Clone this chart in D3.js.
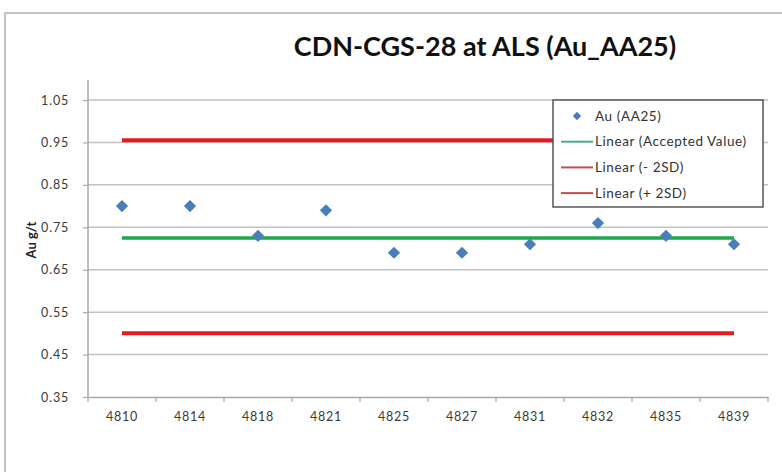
<!DOCTYPE html>
<html>
<head>
<meta charset="utf-8">
<script src="https://cdn.jsdelivr.net/npm/d3@7"></script>
<style>
  body { margin: 0; background: #fff; }
  text { font-family: Lato, "Open Sans", sans-serif; }
</style>
</head>
<body>
<div id="svganchor"></div>
<script>
let width = 782, height = 472;

let margin = ({top: 100, right: 14, bottom: 75, left: 88});

// sample ids on the x axis
let samples = ["4810", "4814", "4818", "4821", "4825", "4827", "4831", "4832", "4835", "4839"];
// Au (AA25) results, g/t
let auValues = [0.80, 0.80, 0.73, 0.79, 0.69, 0.69, 0.71, 0.76, 0.73, 0.71];
let acceptedValue = [0.725, 0.725];
let minus2SD = [0.50, 0.50];
let plus2SD = [0.955, 0.955];
let yTicks = [0.35, 0.45, 0.55, 0.65, 0.75, 0.85, 0.95, 1.05];

let legendItems = [
    {label: "Au (AA25)", type: "point"},
    {label: "Linear (Accepted Value)", type: "line", color: "#4aae8a"},
    {label: "Linear (- 2SD)", type: "line", color: "#c0504d"},
    {label: "Linear (+ 2SD)", type: "line", color: "#c0504d"}
];

let svg = d3.select("#svganchor")
    .append("svg")
    .attr("width", width)
    .attr("height", height);

// outer chart frame
svg.append("rect")
    .attr("x", 5)
    .attr("y", 13)
    .attr("width", 800)
    .attr("height", 480)
    .attr("fill", "none")
    .attr("stroke", "#c4c4c4")
    .attr("stroke-width", 2);

let xScale = d3.scaleBand()
    .domain(samples)
    .range([margin.left, width - margin.right]);

let yScale = d3.scaleLinear()
    .domain([0.35, 1.05])
    .range([height - margin.bottom, margin.top]);

// gridlines
svg.append("g")
    .selectAll("line")
    .data(yTicks.slice(1))
    .enter()
    .append("line")
    .attr("x1", margin.left)
    .attr("x2", width - margin.right)
    .attr("y1", d => yScale(d))
    .attr("y2", d => yScale(d))
    .attr("stroke", "#c2c2c2")
    .attr("stroke-width", 1.5);

let yAxis = d3.axisLeft(yScale)
    .tickValues(yTicks)
    .tickFormat(d3.format(".2f"))
    .tickSizeInner(5)
    .tickSizeOuter(0)
    .tickPadding(14);

let gY = svg.append("g")
    .attr("class", "y axis")
    .attr("transform", "translate(" + margin.left + ",0)")
    .call(yAxis);

gY.select(".domain").remove();
gY.append("line")
    .attr("y1", 80)
    .attr("y2", height - margin.bottom)
    .attr("stroke", "#a8a8a8")
    .attr("stroke-width", 1.5);

let xAxis = d3.axisBottom(xScale)
    .tickSize(0)
    .tickPadding(15);

let gX = svg.append("g")
    .attr("class", "x axis")
    .attr("transform", "translate(0," + (height - margin.bottom) + ")")
    .call(xAxis);

gX.select(".domain")
    .attr("stroke", "#a8a8a8")
    .attr("stroke-width", 1.5);

// boundary ticks between categories
gX.selectAll(".bound")
    .data(samples.concat(["end"]))
    .enter()
    .append("line")
    .attr("x1", (d, i) => margin.left + i * xScale.bandwidth())
    .attr("x2", (d, i) => margin.left + i * xScale.bandwidth())
    .attr("y1", 0)
    .attr("y2", 5)
    .attr("stroke", "#a8a8a8")
    .attr("stroke-width", 1.2);

svg.selectAll(".axis text")
    .attr("fill", "#3a3a3a")
    .style("font-size", "12.5px")
    .style("letter-spacing", "0.8px");

gY.selectAll(".tick line").attr("stroke", "#a8a8a8").attr("stroke-width", 1.2);

let yTitle = svg.append("text")
    .attr("transform", "translate(36," + yScale(0.72) + ") rotate(-90)")
    .attr("text-anchor", "middle")
    .style("font-size", "13px")
    .style("font-weight", "bold")
    .attr("fill", "#222")
    .text("Au g/t");

let chartTitle = svg.append("text")
    .attr("text-anchor", "middle")
    .attr("x", 485)
    .attr("y", 56)
    .style("font-size", "27px")
    .style("font-weight", "bold")
    .attr("fill", "#111")
    .text("CDN-CGS-28 at ALS (Au_AA25)");

// reference lines from first to last sample
let cx = d => xScale(d) + xScale.bandwidth() / 2;
let ends = [samples[0], samples[samples.length - 1]];

function refLine(values, color, w) {
    svg.append("path")
        .datum(values)
        .attr("fill", "none")
        .attr("stroke", color)
        .attr("stroke-width", w)
        .attr("d", d3.line()
            .x((d, i) => cx(ends[i]))
            .y(d => yScale(d)));
}

refLine(plus2SD, "#e31b23", 4);
refLine(minus2SD, "#e31b23", 4);
refLine(acceptedValue, "#1fa84a", 3.5);

let diamond = d3.symbol().type(d3.symbolDiamond2).size(95);

svg.selectAll(".pt")
    .data(auValues)
    .enter()
    .append("path")
    .attr("transform", (d, i) => "translate(" + cx(samples[i]) + "," + yScale(d) + ")")
    .attr("d", diamond)
    .attr("fill", "#4a7ebb");

// legend
let legend = svg.append("g").attr("transform", "translate(553,100)");

legend.append("rect")
    .attr("width", 210)
    .attr("height", 107)
    .attr("fill", "#fff")
    .attr("stroke", "#555")
    .attr("stroke-width", 1.5);

let rows = legend.selectAll(".row")
    .data(legendItems)
    .enter()
    .append("g")
    .attr("transform", (d, i) => "translate(0," + (16 + i * 25.7) + ")");

rows.filter(d => d.type === "point")
    .append("path")
    .attr("transform", "translate(24,0)")
    .attr("d", d3.symbol().type(d3.symbolDiamond2).size(45))
    .attr("fill", "#4a7ebb");

rows.filter(d => d.type === "line")
    .append("line")
    .attr("x1", 8)
    .attr("x2", 40)
    .attr("stroke", d => d.color)
    .attr("stroke-width", 2);

rows.append("text")
    .attr("x", 42)
    .attr("dy", "0.35em")
    .style("font-size", "13.5px")
    .style("letter-spacing", "0.6px")
    .attr("fill", "#333")
    .text(d => d.label);
</script>
</body>
</html>
